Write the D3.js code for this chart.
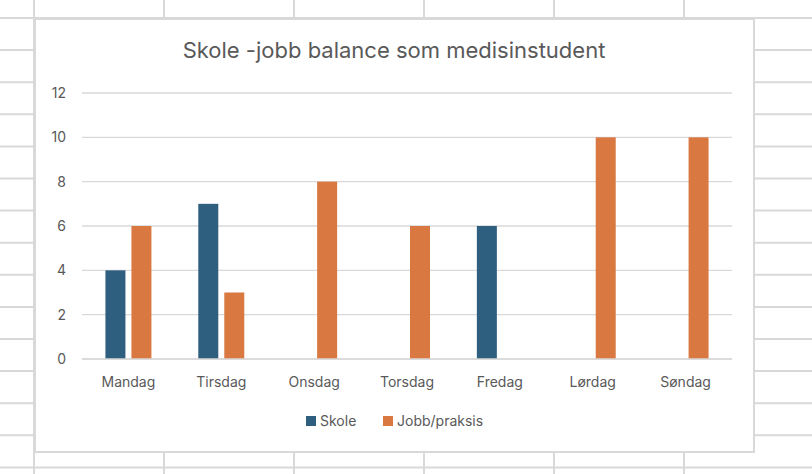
<!DOCTYPE html><html><head><meta charset="utf-8"><script src="https://cdn.jsdelivr.net/npm/d3@7"></script>
<style>body{margin:0;background:#fff}text{font-family:Inter,"Open Sans",sans-serif}</style></head><body><svg id="c" width="812" height="474"></svg>
<script>
const categories=["Mandag","Tirsdag","Onsdag","Torsdag","Fredag","Lørdag","Søndag"];
const skole=[4,7,0,0,6,0,0];
const jobb=[6,3,8,6,0,10,10];
const seriesNames=["Skole","Jobb/praksis"];
const colors=["#2E5F7F","#D97841"];
const yTicks=[0,2,4,6,8,10,12];
const svg=d3.select("#c");
// spreadsheet grid
const g0=svg.append("g").attr("stroke","#d9d9d9").attr("stroke-width",2);
for(let y=18;y<474;y+=32.1)g0.append("line").attr("x1",0).attr("x2",812).attr("y1",y).attr("y2",y);
for(let x=34;x<812;x+=130)g0.append("line").attr("x1",x).attr("x2",x).attr("y1",0).attr("y2",474);
svg.append("rect").attr("x",35).attr("y",19).attr("width",719).attr("height",433).attr("fill","#fff").attr("stroke","#d9d9d9").attr("stroke-width",2);
const x=d3.scaleBand().domain(categories).range([82,732]);
const y=d3.scaleLinear().domain([0,12]).range([359,93]);
svg.append("g").selectAll("line").data(yTicks).join("line").attr("x1",82).attr("x2",732).attr("y1",d=>y(d)).attr("y2",d=>y(d)).attr("stroke","#d9d9d9").attr("stroke-width",1.3);
svg.append("g").selectAll("text").data(yTicks).join("text").attr("x",66).attr("y",d=>y(d)+5).attr("text-anchor","end").attr("font-size",14).attr("fill","#595959").text(d=>d);
const bw=20,gap=6;
[skole,jobb].forEach((s,i)=>{
 svg.append("g").selectAll("rect").data(s).join("rect").attr("x",(d,j)=>x(categories[j])+x.bandwidth()/2+(i===0?-gap/2-bw:gap/2)).attr("y",d=>y(d)).attr("width",bw).attr("height",d=>y(0)-y(d)).attr("fill",colors[i]);
});
svg.append("line").attr("x1",82).attr("x2",732).attr("y1",y(0)).attr("y2",y(0)).attr("stroke","#d9d9d9").attr("stroke-width",1.3);
svg.append("g").selectAll("text").data(categories).join("text").attr("x",d=>x(d)+x.bandwidth()/2).attr("y",387).attr("text-anchor","middle").attr("font-size",14).attr("fill","#595959").text(d=>d);
svg.append("text").attr("x",394).attr("y",58).attr("text-anchor","middle").attr("font-size",22).attr("fill","#595959").text("Skole -jobb balance som medisinstudent");
const lx=[306,383];
seriesNames.forEach((n,i)=>{svg.append("rect").attr("x",lx[i]).attr("y",416).attr("width",10).attr("height",10).attr("fill",colors[i]);
svg.append("text").attr("x",lx[i]+14).attr("y",426).attr("font-size",14).attr("fill","#595959").text(n);});
</script></body></html>
